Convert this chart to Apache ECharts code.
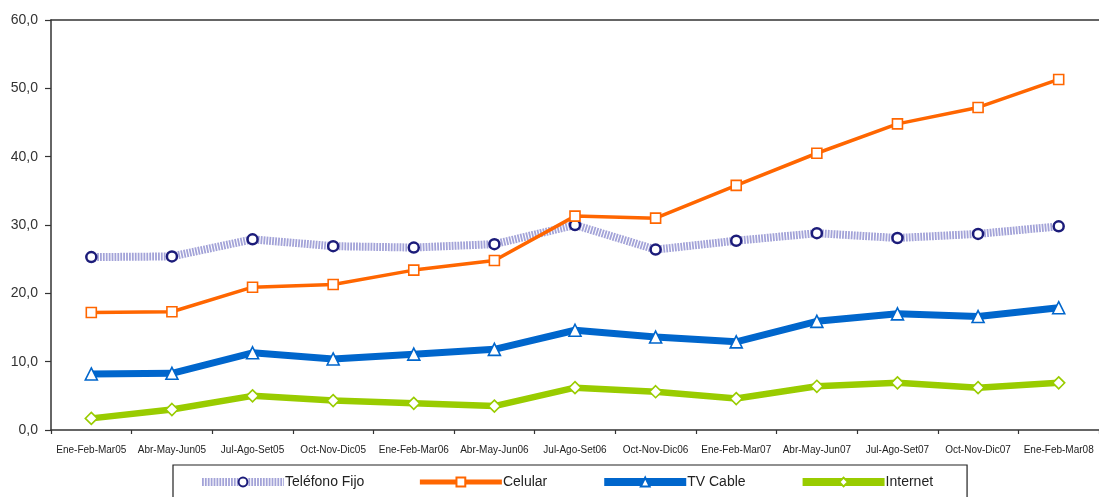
<!DOCTYPE html>
<html>
<head>
<meta charset="utf-8">
<script src="https://cdn.jsdelivr.net/npm/echarts@6/dist/echarts.min.js"></script>
<style>
  html, body { margin: 0; padding: 0; background: #fff; }
  #chart { width: 1099px; height: 497px; }
</style>
</head>
<body>
<div id="chart"></div>
<script>
// Quarterly periods, 2005 to early 2008
const periods = [
  'Ene-Feb-Mar05', 'Abr-May-Jun05', 'Jul-Ago-Set05', 'Oct-Nov-Dic05',
  'Ene-Feb-Mar06', 'Abr-May-Jun06', 'Jul-Ago-Set06', 'Oct-Nov-Dic06',
  'Ene-Feb-Mar07', 'Abr-May-Jun07', 'Jul-Ago-Set07', 'Oct-Nov-Dic07',
  'Ene-Feb-Mar08'
];

// Series values per period
const telefonoFijo = [25.3, 25.4, 27.9, 26.9, 26.7, 27.2, 30.0, 26.4, 27.7, 28.8, 28.1, 28.7, 29.8];
const celular      = [17.2, 17.3, 20.9, 21.3, 23.4, 24.8, 31.3, 31.0, 35.8, 40.5, 44.8, 47.2, 51.3];
const tvCable      = [8.2, 8.3, 11.3, 10.4, 11.1, 11.8, 14.6, 13.6, 12.9, 15.9, 17.0, 16.6, 17.9];
const internet     = [1.7, 3.0, 5.0, 4.3, 3.9, 3.5, 6.2, 5.6, 4.6, 6.4, 6.9, 6.2, 6.9];

// Value axis range
const yMin = 0, yMax = 60, yStep = 10;

const chart = echarts.init(document.getElementById('chart'), null, { renderer: 'canvas' });

const axisColor = '#333333';
const font = 'Arial, "Liberation Sans", sans-serif';

function lineSeries(name, data, color, width, symbol, size, border, borderColor, dash) {
  return {
    name: name,
    type: 'line',
    data: data,
    symbol: symbol,
    symbolSize: size,
    showAllSymbol: true,
    lineStyle: { color: color, width: width, type: dash || 'solid', cap: 'butt', join: 'round' },
    itemStyle: { color: '#ffffff', borderColor: borderColor, borderWidth: border },
    emphasis: { disabled: true },
    animation: false
  };
}

chart.setOption({
  animation: false,
  grid: { left: 51, top: 20, width: 1052, height: 410 },
  xAxis: [
    {
      type: 'category',
      data: periods,
      boundaryGap: true,
      axisLine: { lineStyle: { color: axisColor, width: 1.5 } },
      axisTick: { show: true, length: 4, lineStyle: { color: axisColor, width: 1.2 } },
      axisLabel: { color: '#222', fontSize: 10, fontFamily: font, margin: 15, interval: 0 }
    },
    {
      type: 'category',
      data: periods,
      position: 'top',
      axisLine: { show: true, lineStyle: { color: axisColor, width: 1.5 } },
      axisTick: { show: false },
      axisLabel: { show: false }
    }
  ],
  yAxis: {
    type: 'value',
    min: yMin,
    max: yMax,
    interval: yStep,
    axisLine: { show: true, lineStyle: { color: axisColor, width: 1.5 } },
    axisTick: { show: true, length: 6, lineStyle: { color: axisColor, width: 1.2 } },
    splitLine: { show: false },
    axisLabel: {
      color: '#333', fontSize: 14, fontFamily: font, margin: 13,
      formatter: v => v.toFixed(1).replace('.', ',')
    }
  },
  legend: {
    left: 173,
    top: 465,
    orient: 'horizontal',
    itemWidth: 82,
    itemHeight: 11,
    itemGap: 53,
    padding: [10, 34, 24, 25],
    borderColor: '#222',
    borderWidth: 1.2,
    textStyle: { color: '#222', fontSize: 14, fontFamily: font, padding: [7, 0, 0, -4] },
    data: [
      { name: 'Teléfono Fijo', lineStyle: { width: 8 } },
      { name: 'Celular', lineStyle: { width: 5 } },
      { name: 'TV Cable', lineStyle: { width: 8 } },
      { name: 'Internet', lineStyle: { width: 8 } }
    ]
  },
  series: [
    lineSeries('Teléfono Fijo', telefonoFijo, '#a3a3d8', 8, 'circle', 10, 2.5, '#1c1c7a', [1.8, 1.1]),
    lineSeries('Celular', celular, '#ff6600', 3.5, 'rect', 10, 1.6, '#ff6600'),
    lineSeries('TV Cable', tvCable, '#0066cc', 7, 'triangle', 12, 1.6, '#0066cc'),
    lineSeries('Internet', internet, '#99cc00', 6.5, 'diamond', 12, 1.6, '#99cc00')
  ]
});
</script>
</body>
</html>
